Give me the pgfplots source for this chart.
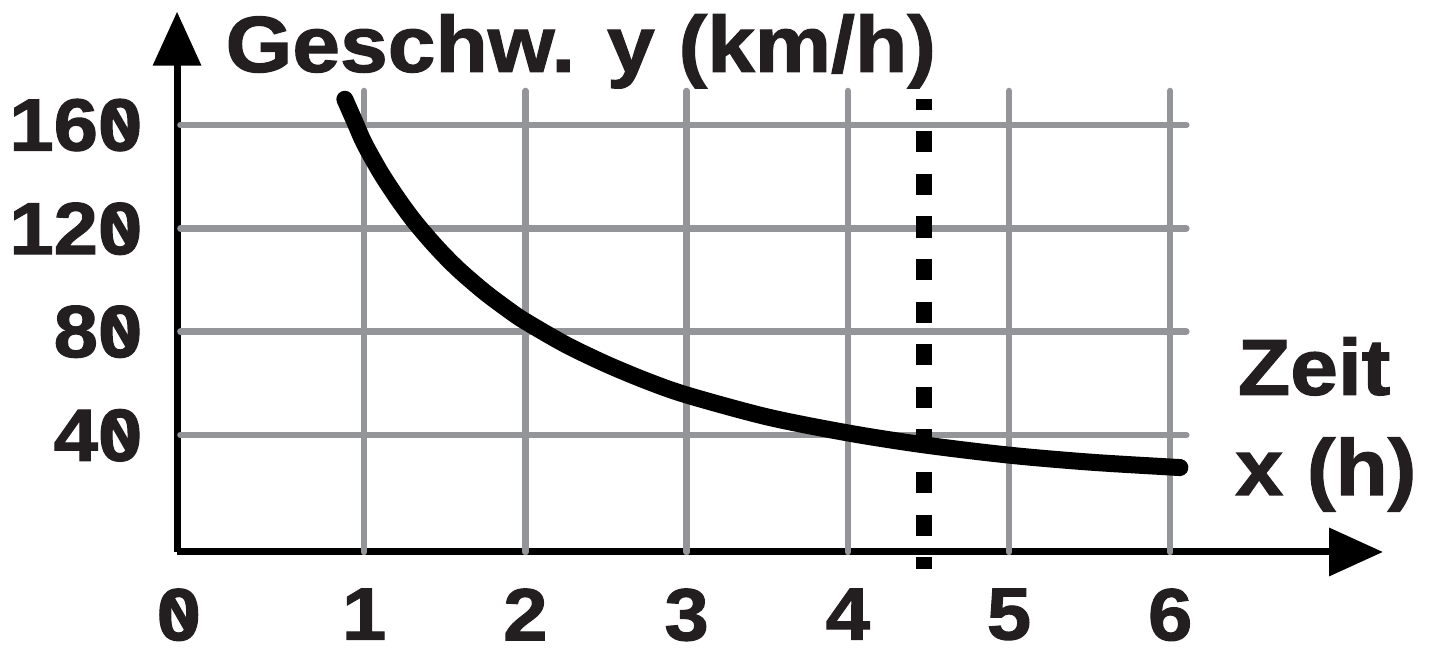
\documentclass[border=0pt]{standalone}
\usepackage{fontspec}
\setmainfont{Liberation Sans}[BoldFeatures={FakeBold=1.5,FakeStretch=1.08}]
\usepackage{pgfplots}
\pgfplotsset{compat=1.18}
\usetikzlibrary{arrows.meta}
\definecolor{ink}{HTML}{231F20}
\definecolor{gridgray}{HTML}{939598}
% slashed zero
\newcommand\z{\ooalign{0\cr\hidewidth\raisebox{0.07em}{\rotatebox[origin=c]{30}{\rule{0.11em}{0.6em}}}\hidewidth\cr}}
\begin{document}
\begin{tikzpicture}
\path[use as bounding box] (-20.3mm,-11.47mm) rectangle (123.2mm,53.83mm);
\begin{axis}[
  anchor=origin, at={(0,0)},
  x=16.12mm, y=0.25825mm,
  xmin=-0.161, xmax=7.32, ymin=-5.3, ymax=203.9,
  clip=false,
  axis lines=left,
  axis line style={line width=0.7mm, black, -{Triangle[length=5.4mm,width=4.7mm]}},
  major tick length=0pt,
  xtick={-0.15,1,2,3,4,5,6},
  xticklabels={\z,1,2,3,4,5,6},
  ytick={40,80,120,160},
  yticklabels={4\z,8\z,12\z,16\z},
  tick label style={font=\bfseries\fontsize{21}{21}\selectfont, text=ink, inner sep=0pt},
  xticklabel style={anchor=north, yshift=-3.6mm},
  yticklabel style={anchor=east, xshift=-3.4mm},
  ylabel={Geschw. y (km/h)},
  every axis y label/.style={at={(axis description cs:0.0397,0.8886)}, anchor=base west,
    rotate=0, inner sep=0pt, text=ink, font=\bfseries\fontsize{22.6}{24}\selectfont},
  xlabel={Zeit},
  every axis x label/.style={at={(axis description cs:0.879,0.291)}, anchor=base west,
    inner sep=0pt, text=ink, font=\bfseries\fontsize{22.6}{24}\selectfont},
  gridline/.style={gridgray, line width=0.65mm, line cap=round},
]
% grid
\addplot[gridline] coordinates {(1,-5.3) (1,173.2)};
\addplot[gridline] coordinates {(2,-5.3) (2,173.2)};
\addplot[gridline] coordinates {(3,-5.3) (3,173.2)};
\addplot[gridline] coordinates {(4,-5.3) (4,173.2)};
\addplot[gridline] coordinates {(5,-5.3) (5,173.2)};
\addplot[gridline] coordinates {(6,-5.3) (6,173.2)};
\addplot[gridline] coordinates {(-0.14,40) (6.10,40)};
\addplot[gridline] coordinates {(-0.14,80) (6.10,80)};
\addplot[gridline] coordinates {(-0.14,120) (6.10,120)};
\addplot[gridline] coordinates {(-0.14,160) (6.10,160)};
% dashed marker line
\addplot[black, line width=1.6mm, dash pattern=on 2.13mm off 2.13mm, dash phase=1.07mm]
  coordinates {(4.473,170) (4.473,-11.9)};
% speed curve
\addplot[black, line width=1.7mm, line cap=round, smooth] coordinates {
(0.88,170) (0.94,161.5) (1,153) (1.1,141.8) (1.2,132.2) (1.3,123.6) (1.4,116.1)
(1.5,109.3) (1.6,103.2) (1.75,95.2) (1.9,88.2) (2,84) (2.25,75) (2.5,67.5)
(2.75,61) (3,55.5) (3.5,47) (4,40.8) (4.47,36.2) (5,32.2)
(5.5,29.5) (6,27.6) (6.06,27.4)
};
\node[anchor=base west, inner sep=0pt, text=ink, font=\bfseries\fontsize{22.6}{24}\selectfont]
  at (axis description cs:0.877,0.1055) {x (h)};
\end{axis}
\end{tikzpicture}
\end{document}
